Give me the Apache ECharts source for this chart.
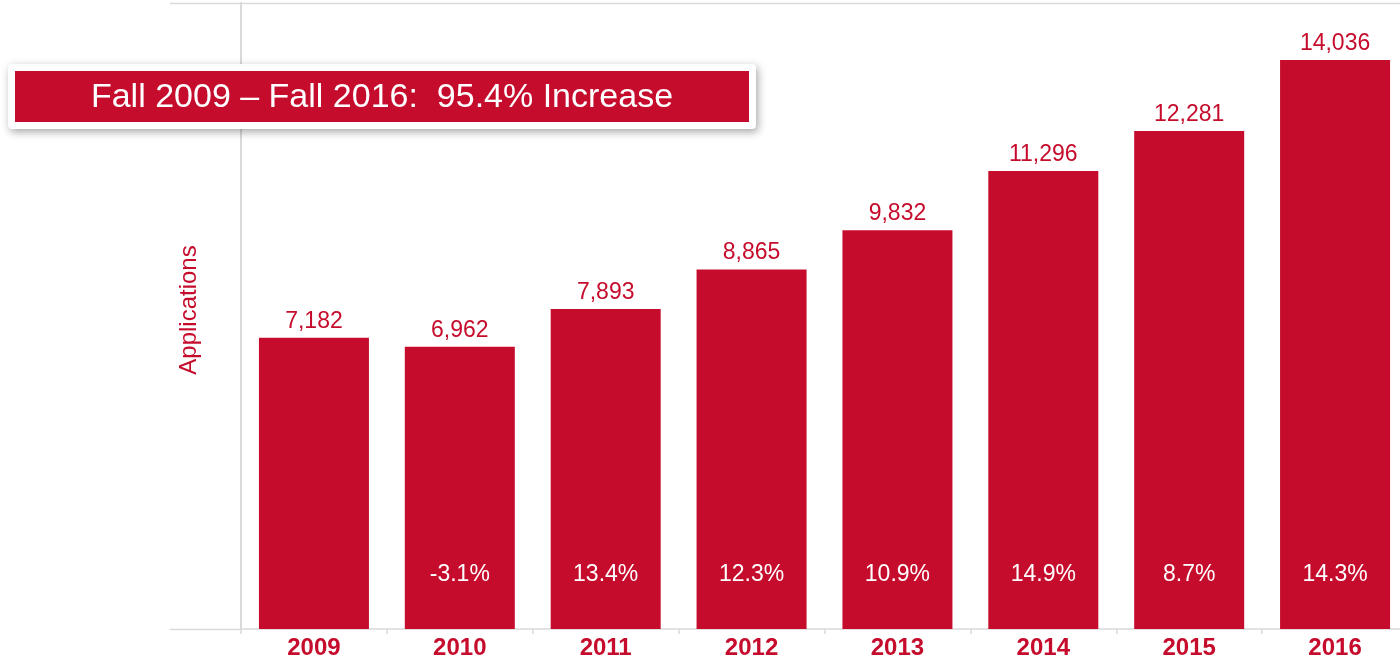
<!DOCTYPE html>
<html>
<head>
<meta charset="utf-8">
<title>Fall Applications 2009–2016</title>
<script src="https://cdn.jsdelivr.net/npm/echarts@6/dist/echarts.min.js"></script>
<style>
  html, body { margin: 0; padding: 0; background: #ffffff; overflow: hidden; }
  /* canvas is a little wider than the window so the last bar's band runs off the right edge */
  #chart { width: 1410px; height: 661px; }
</style>
</head>
<body>
<div id="chart"></div>
<script>
// Fall application counts by year
const years = ['2009', '2010', '2011', '2012', '2013', '2014', '2015', '2016'];
const applications = [7182, 6962, 7893, 8865, 9832, 11296, 12281, 14036];
// Year-over-year change shown inside each bar
const yearChange = ['', '-3.1%', '13.4%', '12.3%', '10.9%', '14.9%', '8.7%', '14.3%'];
const headline = 'Fall 2009 \u2013 Fall 2016:  95.4% Increase';

const RED = '#c60c2c';
const GRID_GREY = '#d9d9d9';
const FONT = '"Liberation Sans", Arial, sans-serif';

const chart = echarts.init(document.getElementById('chart'), null, { renderer: 'canvas' });

chart.setOption({
  animation: false,
  backgroundColor: '#ffffff',
  textStyle: { fontFamily: FONT },
  grid: { left: 241, right: 2, top: 3, bottom: 32, containLabel: false },
  xAxis: {
    type: 'category',
    data: years,
    axisLine: { show: true, lineStyle: { color: GRID_GREY, width: 1.5 } },
    axisTick: { show: true, alignWithLabel: false, length: 5, lineStyle: { color: GRID_GREY, width: 1.5 } },
    axisLabel: { color: RED, fontSize: 24, fontWeight: 'bold', fontFamily: FONT, margin: 7 }
  },
  yAxis: {
    type: 'value',
    min: 0,
    max: 15440,
    name: 'Applications',
    nameLocation: 'middle',
    nameGap: 40,
    nameRotate: 90,
    nameTextStyle: { color: RED, fontSize: 24, fontFamily: FONT, padding: [0, 0, 0, 12] },
    axisLine: { show: true, lineStyle: { color: GRID_GREY, width: 2 } },
    axisTick: { show: false },
    axisLabel: { show: false },
    splitLine: { show: false }
  },
  series: [
    {
      name: 'Applications',
      type: 'bar',
      data: applications,
      barWidth: 110,
      itemStyle: { color: RED },
      label: {
        show: true,
        position: 'top',
        distance: 5,
        color: RED,
        fontSize: 23,
        fontFamily: FONT,
        formatter: p => p.value.toLocaleString('en-US')
      },
      z: 2
    },
    {
      name: 'Change',
      type: 'bar',
      data: applications,
      barWidth: 110,
      barGap: '-100%',
      itemStyle: { color: 'rgba(0,0,0,0)' },
      label: {
        show: true,
        position: 'insideBottom',
        distance: 43,
        color: '#ffffff',
        fontSize: 23,
        fontFamily: FONT,
        formatter: p => yearChange[p.dataIndex]
      },
      silent: true,
      z: 3
    }
  ],
  graphic: [
    // frame lines extending left of the value axis
    { type: 'line', shape: { x1: 170, y1: 3.5, x2: 1410, y2: 3.5 }, style: { stroke: GRID_GREY, lineWidth: 1.5 }, z: 1 },
    { type: 'line', shape: { x1: 170, y1: 629.5, x2: 242, y2: 629.5 }, style: { stroke: GRID_GREY, lineWidth: 1.5 }, z: 1 },
    // headline banner
    {
      type: 'rect',
      shape: { x: 8, y: 64, width: 748, height: 65, r: 4 },
      style: { fill: '#ffffff', shadowBlur: 8, shadowOffsetX: 2, shadowOffsetY: 3, shadowColor: 'rgba(0,0,0,0.35)' },
      z: 10
    },
    {
      type: 'rect',
      shape: { x: 15, y: 71, width: 734, height: 51 },
      style: { fill: RED },
      z: 11
    },
    {
      type: 'text',
      x: 382,
      y: 98,
      style: {
        text: headline,
        fill: '#ffffff',
        font: '34px "Liberation Sans", Arial, sans-serif',
        textAlign: 'center',
        textVerticalAlign: 'middle'
      },
      z: 12
    }
  ]
});
</script>
</body>
</html>
